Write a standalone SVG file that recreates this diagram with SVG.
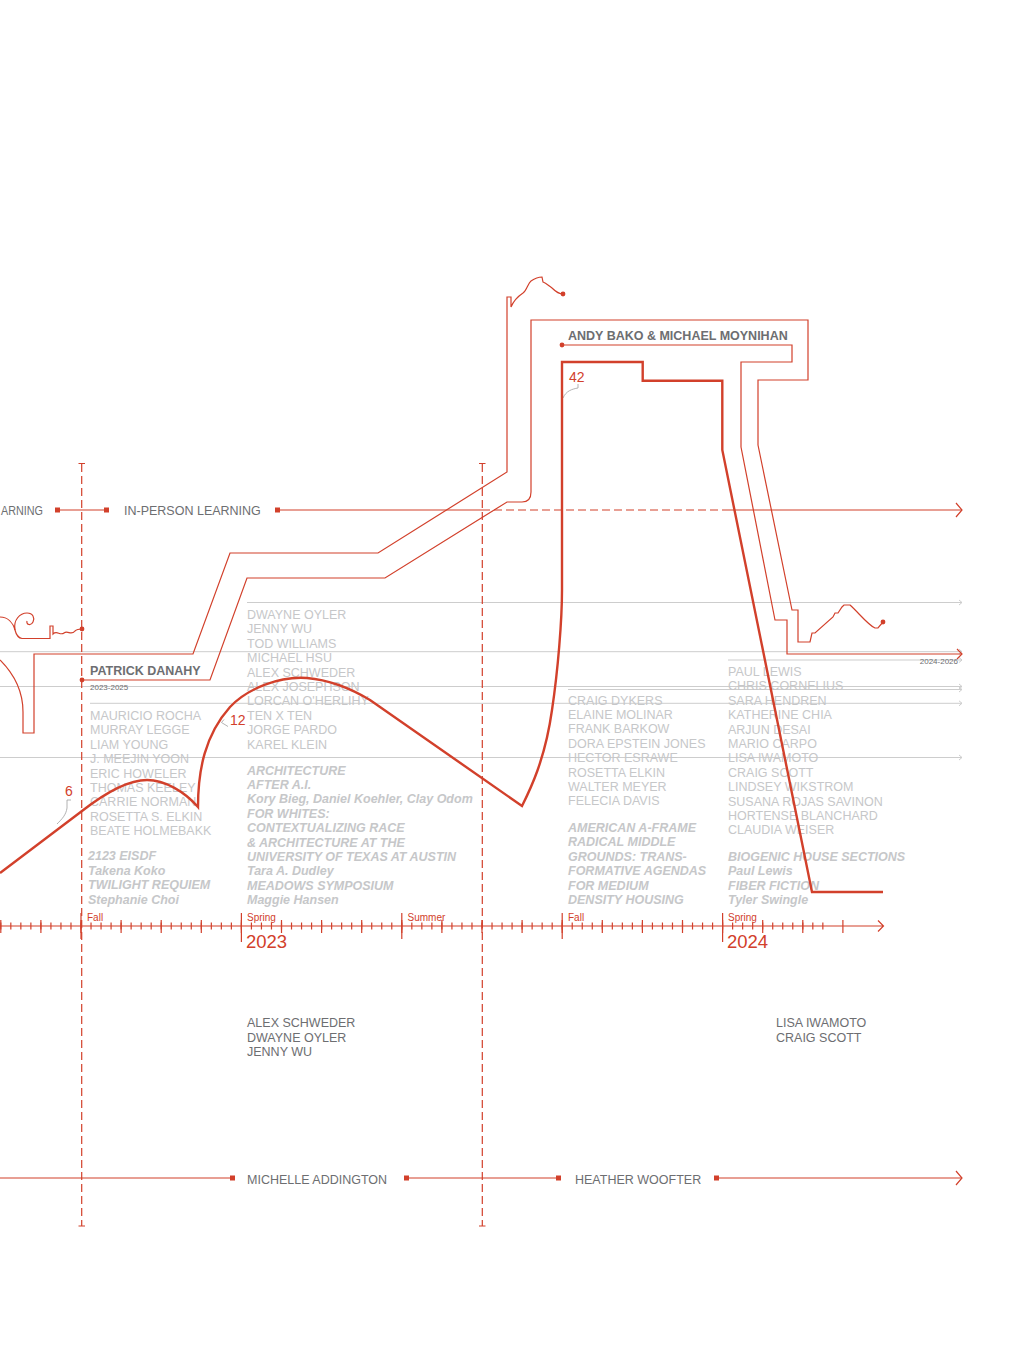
<svg xmlns="http://www.w3.org/2000/svg" width="1018" height="1365" viewBox="0 0 1018 1365">
<style>
.red{stroke:#d2402b;fill:none;stroke-width:1.2}
.thick{stroke:#d2402b;fill:none;stroke-width:2.4;stroke-linejoin:miter}
.dash{stroke:#d2402b;fill:none;stroke-width:1.2;stroke-dasharray:8 4}
.gl{stroke:#cdcdcd;fill:none;stroke-width:1}
.lead{stroke:#a0a0a0;fill:none;stroke-width:0.8}
.lbl{font-family:"Liberation Sans",Arial,sans-serif;font-size:12.5px;fill:#6d6e71}
.b{font-weight:bold}
.lt{font-family:"Liberation Sans",Arial,sans-serif;font-size:12.5px;fill:#c6c7c9}
.it{font-style:italic;font-weight:bold}
.rt{font-family:"Liberation Sans",Arial,sans-serif;fill:#d2402b}
.sq{fill:#d2402b}
</style>
<rect width="1018" height="1365" fill="#ffffff"/>

<g id="gray-lines">
<path class="gl" d="M247,602.5H962M0,651.7H962M728,660H962M0,686.5H962M568,689.5H962M90,703.3H962M0,757.5H962"/>
<path class="gl" d="M959,600L962,602.5L959,605M959,649.2L962,651.7L959,654.2M959,657.5L962,660L959,662.5M959,684L962,686.5L959,689M959,687L962,689.5L959,692M959,700.8L962,703.3L959,705.8M959,755L962,757.5L959,760"/>
</g>

<g id="col-1">
<text class="lt" x="90" y="720"><tspan x="90">MAURICIO ROCHA</tspan><tspan x="90" dy="14.4">MURRAY LEGGE</tspan><tspan x="90" dy="14.4">LIAM YOUNG</tspan><tspan x="90" dy="14.4">J. MEEJIN YOON</tspan><tspan x="90" dy="14.4">ERIC HOWELER</tspan><tspan x="90" dy="14.4">THOMAS KEELEY</tspan><tspan x="90" dy="14.4">CARRIE NORMAN</tspan><tspan x="90" dy="14.4">ROSETTA S. ELKIN</tspan><tspan x="90" dy="14.4">BEATE HOLMEBAKK</tspan></text>
<text class="lt it" x="88" y="860.4"><tspan x="88">2123 EISDF</tspan><tspan x="88" dy="14.4">Takena Koko</tspan><tspan x="88" dy="14.4">TWILIGHT REQUIEM</tspan><tspan x="88" dy="14.4">Stephanie Choi</tspan></text>
</g>

<g id="col-2">
<text class="lt" x="247" y="619"><tspan x="247">DWAYNE OYLER</tspan><tspan x="247" dy="14.4">JENNY WU</tspan><tspan x="247" dy="14.4">TOD WILLIAMS</tspan><tspan x="247" dy="14.4">MICHAEL HSU</tspan><tspan x="247" dy="14.4">ALEX SCHWEDER</tspan><tspan x="247" dy="14.4">ALEX JOSEPHSON</tspan><tspan x="247" dy="14.4">LORCAN O'HERLIHY</tspan><tspan x="247" dy="14.4">TEN X TEN</tspan><tspan x="247" dy="14.4">JORGE PARDO</tspan><tspan x="247" dy="14.4">KAREL KLEIN</tspan></text>
<text class="lt it" x="247" y="774.5"><tspan x="247">ARCHITECTURE</tspan><tspan x="247" dy="14.4">AFTER A.I.</tspan><tspan x="247" dy="14.4">Kory Bieg, Daniel Koehler, Clay Odom</tspan><tspan x="247" dy="14.4">FOR WHITES:</tspan><tspan x="247" dy="14.4">CONTEXTUALIZING RACE</tspan><tspan x="247" dy="14.4">&amp; ARCHITECTURE AT THE</tspan><tspan x="247" dy="14.4">UNIVERSITY OF TEXAS AT AUSTIN</tspan><tspan x="247" dy="14.4">Tara A. Dudley</tspan><tspan x="247" dy="14.4">MEADOWS SYMPOSIUM</tspan><tspan x="247" dy="14.4">Maggie Hansen</tspan></text>
</g>

<g id="col-3">
<text class="lt" x="568" y="704.5"><tspan x="568">CRAIG DYKERS</tspan><tspan x="568" dy="14.4">ELAINE MOLINAR</tspan><tspan x="568" dy="14.4">FRANK BARKOW</tspan><tspan x="568" dy="14.4">DORA EPSTEIN JONES</tspan><tspan x="568" dy="14.4">HECTOR ESRAWE</tspan><tspan x="568" dy="14.4">ROSETTA ELKIN</tspan><tspan x="568" dy="14.4">WALTER MEYER</tspan><tspan x="568" dy="14.4">FELECIA DAVIS</tspan></text>
<text class="lt it" x="568" y="832"><tspan x="568">AMERICAN A-FRAME</tspan><tspan x="568" dy="14.4">RADICAL MIDDLE</tspan><tspan x="568" dy="14.4">GROUNDS: TRANS-</tspan><tspan x="568" dy="14.4">FORMATIVE AGENDAS</tspan><tspan x="568" dy="14.4">FOR MEDIUM</tspan><tspan x="568" dy="14.4">DENSITY HOUSING</tspan></text>
</g>

<g id="col-4">
<text class="lt" x="728" y="676"><tspan x="728">PAUL LEWIS</tspan><tspan x="728" dy="14.4">CHRIS CORNELIUS</tspan><tspan x="728" dy="14.4">SARA HENDREN</tspan><tspan x="728" dy="14.4">KATHERINE CHIA</tspan><tspan x="728" dy="14.4">ARJUN DESAI</tspan><tspan x="728" dy="14.4">MARIO CARPO</tspan><tspan x="728" dy="14.4">LISA IWAMOTO</tspan><tspan x="728" dy="14.4">CRAIG SCOTT</tspan><tspan x="728" dy="14.4">LINDSEY WIKSTROM</tspan><tspan x="728" dy="14.4">SUSANA ROJAS SAVINON</tspan><tspan x="728" dy="14.4">HORTENSE BLANCHARD</tspan><tspan x="728" dy="14.4">CLAUDIA WEISER</tspan></text>
<text class="lt it" x="728" y="861"><tspan x="728">BIOGENIC HOUSE SECTIONS</tspan><tspan x="728" dy="14.4">Paul Lewis</tspan><tspan x="728" dy="14.4">FIBER FICTION</tspan><tspan x="728" dy="14.4">Tyler Swingle</tspan></text>
</g>

<g id="learning-mode">
<text class="lbl" x="1" y="515" textLength="42" lengthAdjust="spacingAndGlyphs">ARNING</text>
<text class="lbl" x="124" y="515">IN-PERSON LEARNING</text>
<rect class="sq" x="55" y="507.5" width="5" height="5"/>
<rect class="sq" x="104" y="507.5" width="5" height="5"/>
<rect class="sq" x="275" y="507.5" width="5" height="5"/>
</g>

<g id="deans">
<text class="lbl" x="247" y="1184">MICHELLE ADDINGTON</text>
<text class="lbl" x="575" y="1184">HEATHER WOOFTER</text>
<rect class="sq" x="230" y="1175.5" width="5" height="5"/>
<rect class="sq" x="404" y="1175.5" width="5" height="5"/>
<rect class="sq" x="556" y="1175.5" width="5" height="5"/>
<rect class="sq" x="714" y="1175.5" width="5" height="5"/>
</g>

<g id="visitors">
<text class="lbl" x="247" y="1027.3"><tspan x="247">ALEX SCHWEDER</tspan><tspan x="247" dy="14.4">DWAYNE OYLER</tspan><tspan x="247" dy="14.4">JENNY WU</tspan></text>
<text class="lbl" x="776" y="1027.3"><tspan x="776">LISA IWAMOTO</tspan><tspan x="776" dy="14.4">CRAIG SCOTT</tspan></text>
</g>

<g id="patrick-danahy">
<text class="lbl b" x="90" y="675">PATRICK DANAHY</text>
<text class="lbl" x="90" y="690" style="font-size:8px">2023-2025</text>
</g>
<g id="andy-bako">
<text class="lbl b" x="568" y="340">ANDY BAKO &amp; MICHAEL MOYNIHAN</text>
<text class="lbl" x="958" y="664" text-anchor="end" style="font-size:8px">2024-2026</text>
</g>

<g id="timeline">
<path class="red" d="M0,926H883M878,920.5L883.5,926L878,931.5"/>
<path class="red" stroke-width="1" d="M0.8,922.5v7m10.025-7v7m10.025-7v7m10.025-7v7m10.025-7v7m10.025-7v7m10.025-7v7m10.025-7v7m10.025-7v7m10.025-7v7m10.025-7v7m10.025-7v7m10.025-7v7m10.025-7v7m10.025-7v7m10.025-7v7m10.025-7v7m10.025-7v7m10.025-7v7m10.025-7v7m10.025-7v7m10.025-7v7m10.025-7v7m10.025-7v7m10.025-7v7m10.025-7v7m10.025-7v7m10.025-7v7m10.025-7v7m10.025-7v7m10.025-7v7m10.025-7v7m10.025-7v7m10.025-7v7m10.025-7v7m10.025-7v7m10.025-7v7m10.025-7v7m10.025-7v7m10.025-7v7m10.025-7v7m10.025-7v7m10.025-7v7m10.025-7v7m10.025-7v7m10.025-7v7m10.025-7v7m10.025-7v7m10.025-7v7m10.025-7v7m10.025-7v7m10.025-7v7m10.025-7v7m10.025-7v7m10.025-7v7m10.025-7v7m10.025-7v7m10.025-7v7m10.025-7v7m10.025-7v7m10.025-7v7m10.025-7v7m10.025-7v7m10.025-7v7m10.025-7v7m10.025-7v7m10.025-7v7m10.025-7v7m10.025-7v7m10.025-7v7m10.025-7v7m10.025-7v7m10.025-7v7m10.025-7v7m10.025-7v7m10.025-7v7m10.025-7v7m10.025-7v7m10.025-7v7m10.025-7v7m10.025-7v7m10.025-7v7m10.025-7v7"/>
<path class="red" d="M0.8,920v13m40.1-13v13m40.1-13v13m40.1-13v13m40.1-13v13m40.1-13v13m40.1-13v13m40.1-13v13m40.1-13v13m40.1-13v13m40.1-13v13m40.1-13v13m40.1-13v13m40.1-13v13m40.1-13v13m40.1-13v13m40.1-13v13m40.1-13v13m40.1-13v13m40.1-13v13m40.1-13v13m40.1-13v13"/>
<path class="red" d="M81,913v26M401.8,913v26M562.2,913v26"/>
<path class="red" stroke-width="2.2" d="M241.4,913v29M722.6,913v29"/>
<text class="rt" x="87" y="920.5" font-size="10">Fall</text>
<text class="rt" x="247" y="920.5" font-size="10">Spring</text>
<text class="rt" x="407.5" y="920.5" font-size="10">Summer</text>
<text class="rt" x="568" y="920.5" font-size="10">Fall</text>
<text class="rt" x="728" y="920.5" font-size="10">Spring</text>
<text class="rt" x="246" y="948" font-size="18.5">2023</text>
<text class="rt" x="727" y="948" font-size="18.5">2024</text>
</g>

<g id="data-labels">
<text class="rt" x="65" y="795.5" font-size="14">6</text>
<text class="rt" x="230" y="725" font-size="14">12</text>
<text class="rt" x="569" y="382" font-size="14">42</text>
<path class="lead" d="M71,800H67v8C66,815 62,819 57,824"/>
<path class="lead" d="M224,719.5L221.5,722.5L228,726.5"/>
<path class="lead" d="M578,384v4C572,389 566,391 563,398"/>
</g>

<g id="connectors">
<path class="dash" d="M81.7,464V1226M482.3,464V1226"/>
<path class="red" d="M78.5,463.5h6.5M78.5,1226h6.5M479,463.5h6.5M479,1226h6.5"/>
<path class="red" d="M60,510H104M280,510H482M722,510H962"/>
<path class="dash" d="M482,510H722"/>
<path class="red" stroke-width="1.5" d="M956,503L962,510L956,517"/>
<path class="red" d="M0,1178H232M409,1178H556M719,1178H962"/>
<path class="red" stroke-width="1.5" d="M956,1171L962,1178L956,1185"/>
<path class="red" d="M0,617C8,617 13,623 15,630C16,634 18,638 22,638.5L50,638.5V626H53V634C57,630 60,636 64,633C68,630 71,636 75,631C77,629 79,629 82,629"/>
<path class="red" d="M15,630C13,620 20,613 27,613C33,613 35,618 33,622C31,626 26,625 27,621"/>
<path class="red" d="M0,660C12,672 23,690 23,712V733H34V654H193L230,553H378L507,472V297H511V307C514,300 520,295 523,293C527,290 528,283 531,281C534,279 538,277 542,277L543,282C546,283 549,286 552,288C555,291 558,294 563,294"/>
<path class="red" d="M82,680H210L247,578H385L507,502H522Q531,502 531,492V320H808V380H758V445L792,610H798V642H810L812,633H815L833,617L835,613H838L842,607L844,605H850C858,612 868,625 875,628H878L883,622"/>
<path class="red" d="M562,345H792V362H741V447L775,620H787V654H962"/>
<path class="red" stroke-width="1.4" d="M957,649L962,654L957,659"/>
<circle class="sq" cx="82" cy="629" r="2.4"/>
<circle class="sq" cx="82" cy="680" r="2.4"/>
<circle class="sq" cx="563" cy="294" r="2.4"/>
<circle class="sq" cx="562" cy="345" r="2.4"/>
<circle class="sq" cx="883" cy="622" r="2.4"/>
<path class="thick" d="M0,873L82,811C100,797 125,780 147,780C165,780 185,792 198,807C198,770 205,735 230,707C248,688 280,676 307,678C330,680 350,688 370,700L522,806C530,790 545,760 552,710C558,670 562,620 562,590V362H642.7V380.7H722.3V450L812,892H883"/>
</g>
</svg>
